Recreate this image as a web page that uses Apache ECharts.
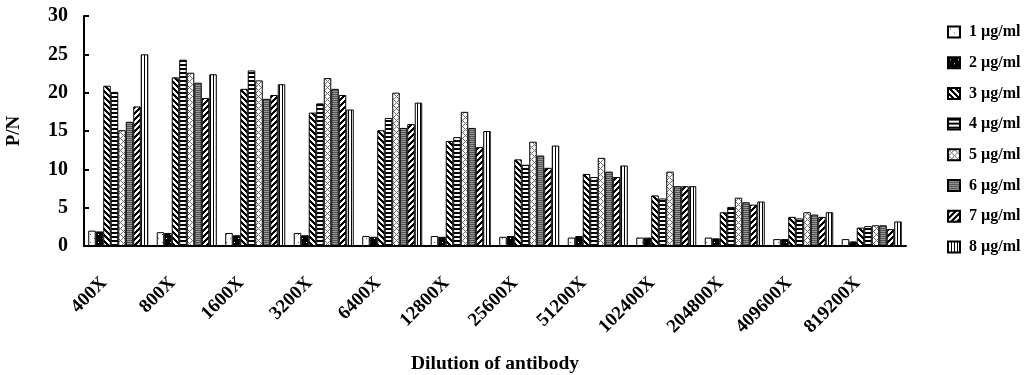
<!DOCTYPE html>
<html>
<head>
<meta charset="utf-8">
<script src="https://cdn.jsdelivr.net/npm/echarts@6/dist/echarts.min.js"></script>
<style>
  html, body { margin: 0; padding: 0; background: #fff; }
  #chart { width: 1027px; height: 375px; }
</style>
</head>
<body>
<div id="chart"></div>
<script>
// Dilution categories (x axis)
const dilutions = ['400X', '800X', '1600X', '3200X', '6400X', '12800X',
  '25600X', '51200X', '102400X', '204800X', '409600X', '819200X'];

// Antibody coating concentrations (legend)
const concentrations = ['1 µg/ml', '2 µg/ml', '3 µg/ml', '4 µg/ml',
  '5 µg/ml', '6 µg/ml', '7 µg/ml', '8 µg/ml'];

// P/N ratio per dilution, one array per concentration
const pn1 = [2.0, 1.8, 1.7, 1.7, 1.3, 1.3, 1.2, 1.1, 1.1, 1.1, 0.9, 0.9];
const pn2 = [1.9, 1.7, 1.4, 1.4, 1.2, 1.2, 1.3, 1.3, 1.1, 1.0, 0.9, 0.6];
const pn3 = [20.9, 22.0, 20.5, 17.4, 15.1, 13.7, 11.3, 9.4, 6.6, 4.4, 3.8, 2.4];
const pn4 = [20.1, 24.3, 22.9, 18.6, 16.7, 14.2, 10.6, 9.0, 6.2, 5.1, 3.6, 2.6];
const pn5 = [15.1, 22.6, 21.6, 21.9, 20.0, 17.5, 13.6, 11.5, 9.7, 6.3, 4.4, 2.7];
const pn6 = [16.2, 21.3, 19.2, 20.5, 15.4, 15.4, 11.8, 9.7, 7.8, 5.7, 4.1, 2.7];
const pn7 = [18.2, 19.3, 19.7, 19.7, 15.9, 12.9, 10.2, 9.0, 7.8, 5.4, 3.8, 2.2];
const pn8 = [25.0, 22.4, 21.1, 17.8, 18.7, 15.0, 13.1, 10.5, 7.8, 5.8, 4.4, 3.2];

// Y axis tick labels
const yTicks = [0, 5, 10, 15, 20, 25, 30];

const seriesValues = [pn1, pn2, pn3, pn4, pn5, pn6, pn7, pn8];

// Build a small repeating monochrome tile; fn(x, y) returns a grey level 0..255
function tile(w, h, fn) {
  const c = document.createElement('canvas');
  c.width = w; c.height = h;
  const ctx = c.getContext('2d');
  const img = ctx.createImageData(w, h);
  for (let y = 0; y < h; y++) {
    for (let x = 0; x < w; x++) {
      const v = fn(x, y);
      const i = (y * w + x) * 4;
      img.data[i] = img.data[i + 1] = img.data[i + 2] = v;
      img.data[i + 3] = 255;
    }
  }
  ctx.putImageData(img, 0, 0);
  return c;
}

const fills = [
  // sparse dots on white
  tile(8, 8, (x, y) => ((x === 2 && y === 2) || (x === 6 && y === 6)) ? 90 : 255),
  // sparse white dots on black
  tile(8, 8, (x, y) => ((x === 2 && y === 2) || (x === 6 && y === 6)) ? 255 : 0),
  // back diagonal stripes
  tile(6, 6, (x, y) => (((x - y) % 6 + 6) % 6 < 3) ? 0 : 255),
  // horizontal lines
  tile(4, 4, (x, y) => (y % 4 < 2) ? 0 : 255),
  // diamond lattice
  tile(6, 6, (x, y) => (((x + y) % 6 === 0) || (((x - y) % 6 + 6) % 6 === 0)) ? 110 : 255),
  // dark grey fine lines
  tile(2, 2, (x, y) => (y % 2 === 0) ? 85 : 150),
  // forward diagonal stripes
  tile(6, 6, (x, y) => ((x + y) % 6 < 3) ? 0 : 255),
  // vertical lines
  tile(3, 3, (x, y) => (x % 3 === 0) ? 0 : 255)
];

const serif = '"Liberation Serif", "Times New Roman", serif';

const chart = echarts.init(document.getElementById('chart'), null, { renderer: 'canvas' });

chart.setOption({
  animation: false,
  backgroundColor: '#fff',
  grid: { left: 84, right: 121, top: 16, bottom: 129, containLabel: false, outerBoundsMode: 'none' },
  legend: {
    orient: 'vertical',
    left: 942,
    top: 19,
    icon: 'rect',
    itemWidth: 12,
    itemHeight: 11,
    itemGap: 14.7,
    data: concentrations,
    textStyle: {
      fontFamily: serif, fontWeight: 'bold', fontSize: 16, color: '#000',
      lineHeight: 16, padding: [0, 0, 0, 4]
    }
  },
  xAxis: {
    type: 'category',
    data: dilutions,
    name: 'Dilution of antibody',
    nameLocation: 'middle',
    nameGap: 108,
    nameTextStyle: { fontFamily: serif, fontWeight: 'bold', fontSize: 19.5, color: '#000' },
    axisLine: { lineStyle: { color: '#000', width: 2 } },
    axisTick: { inside: true, length: 5, lineStyle: { color: '#000', width: 2 } },
    axisLabel: {
      rotate: 45, margin: 20, interval: 0,
      fontFamily: serif, fontWeight: 'bold', fontSize: 19, color: '#000',
      padding: [0, 20, 0, 0]
    }
  },
  yAxis: {
    type: 'value',
    min: yTicks[0],
    max: yTicks[yTicks.length - 1],
    interval: yTicks[1] - yTicks[0],
    name: 'P/N',
    nameLocation: 'middle',
    nameGap: 60,
    nameTextStyle: { fontFamily: serif, fontWeight: 'bold', fontSize: 19, color: '#000' },
    axisLine: { show: true, lineStyle: { color: '#000', width: 2 } },
    axisTick: { show: true, inside: true, length: 5, lineStyle: { color: '#000', width: 2 } },
    splitLine: { show: false },
    axisLabel: { margin: 16, fontFamily: serif, fontWeight: 'bold', fontSize: 20, color: '#000' }
  },
  series: concentrations.map((name, i) => ({
    name: name,
    type: 'bar',
    data: seriesValues[i],
    barGap: 0,
    barCategoryGap: '12.4%',
    itemStyle: {
      color: { image: fills[i], repeat: 'repeat' },
      borderColor: '#000',
      borderWidth: 1
    },
    emphasis: { disabled: true }
  }))
});
</script>
</body>
</html>
